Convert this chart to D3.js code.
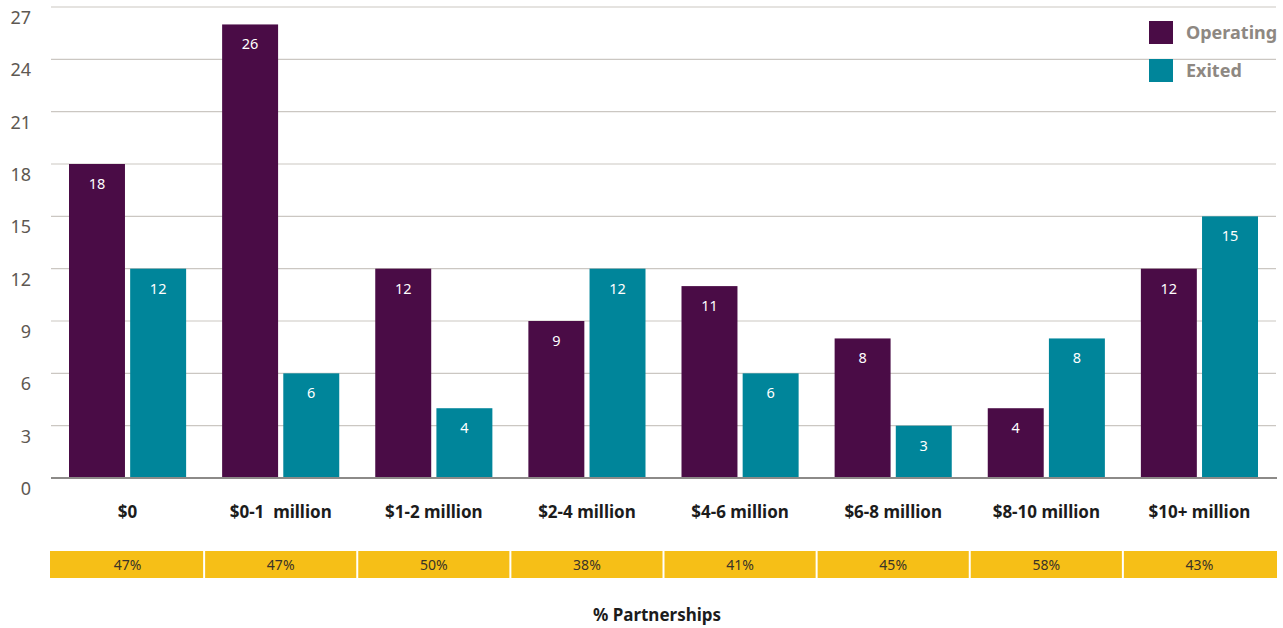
<!DOCTYPE html>
<html>
<head>
<meta charset="utf-8">
<script src="https://cdn.jsdelivr.net/npm/d3@7"></script>
<style>
  html, body { margin: 0; padding: 0; background: #fff; }
  svg { display: block; font-family: "Source Sans Pro", "Noto Sans", sans-serif; }
</style>
</head>
<body>
<div id="chart"></div>
<script>
/* grouped bars: operating vs exited by revenue band, with a % partnerships strip */
const categories = ["$0", "$0-1  million", "$1-2 million", "$2-4 million", "$4-6 million", "$6-8 million", "$8-10 million", "$10+ million"];
const operating = [18, 26, 12, 9, 11, 8, 4, 12];
const exited = [12, 6, 4, 12, 6, 3, 8, 15];
const partnerships = ["47%", "47%", "50%", "38%", "41%", "45%", "58%", "43%"];
const yTicks = [0, 3, 6, 9, 12, 15, 18, 21, 24, 27];
const seriesNames = ["Operating", "Exited"];

const W = 1283, H = 628;
const C = { operating: "#4a0c46", exited: "#00859a", grid: "#cbc7c2", base: "#8c8a88", tick: "#5e5852", legend: "#8e8882", ink: "#1c1c1c", strip: "#f6bf17" };
const m = { left: 51, right: 7, top: 7, baseY: 478 };

const svg = d3.select("#chart").append("svg").attr("width", W).attr("height", H);

const x = d3.scaleBand().domain(categories).range([m.left, W - m.right]).paddingInner(0).paddingOuter(0);
const inner = d3.scaleBand().domain(seriesNames).range([18, x.bandwidth() - 18]).paddingInner(0.085);
const y = d3.scaleLinear().domain([0, 27]).range([m.baseY, m.top]);

// gridlines + tick labels (labels sit a little under their line, as in the source)
const grid = svg.append("g");
yTicks.filter((t) => t > 0).forEach((t) => {
  grid.append("line").attr("x1", m.left).attr("x2", W - m.right)
    .attr("y1", y(t)).attr("y2", y(t)).attr("stroke", C.grid).attr("stroke-width", 1.2);
});
svg.append("g").selectAll("text").data(yTicks).join("text")
  .attr("x", 31).attr("y", (d) => y(d) + 17).attr("text-anchor", "end")
  .attr("font-size", 18).attr("fill", C.tick).text((d) => d);

// bars
const groups = svg.append("g").selectAll("g").data(categories).join("g")
  .attr("transform", (d) => `translate(${x(d)},0)`);
const rows = categories.map((c, i) => [
  { key: "Operating", v: operating[i], col: C.operating },
  { key: "Exited", v: exited[i], col: C.exited },
]);
groups.each(function (c, i) {
  const g = d3.select(this);
  g.selectAll("rect").data(rows[i]).join("rect")
    .attr("x", (d) => inner(d.key)).attr("width", inner.bandwidth())
    .attr("y", (d) => y(d.v)).attr("height", (d) => y(0) - y(d.v)).attr("fill", (d) => d.col);
  g.selectAll("text.v").data(rows[i]).join("text").attr("class", "v")
    .attr("x", (d) => inner(d.key) + inner.bandwidth() / 2).attr("y", (d) => y(d.v) + 25)
    .attr("text-anchor", "middle").attr("font-size", 14.5).attr("fill", "#fff").text((d) => d.v);
});

// baseline
svg.append("line").attr("x1", m.left).attr("x2", W - m.right + 1)
  .attr("y1", m.baseY).attr("y2", m.baseY).attr("stroke", C.base).attr("stroke-width", 2);

// category labels
svg.append("g").selectAll("text").data(categories).join("text")
  .attr("x", (d) => x(d) + x.bandwidth() / 2).attr("y", 518).attr("text-anchor", "middle")
  .attr("font-size", 17).attr("font-weight", 700).attr("fill", C.ink)
  .style("white-space", "pre").text((d) => d);

// % partnerships strip
const strip = svg.append("g");
strip.selectAll("rect").data(categories).join("rect")
  .attr("x", (d, i) => x(d) + (i === 0 ? -1 : 1)).attr("width", (d, i) => x.bandwidth() - (i === 0 ? 0 : 2) + (i === categories.length - 1 ? 2 : 0))
  .attr("y", 551).attr("height", 27).attr("fill", C.strip);
strip.selectAll("text").data(categories).join("text")
  .attr("x", (d) => x(d) + x.bandwidth() / 2).attr("y", 569.5).attr("text-anchor", "middle")
  .attr("font-size", 14).attr("fill", "#3a3328").text((d, i) => partnerships[i]);

svg.append("text").attr("x", 657).attr("y", 621).attr("text-anchor", "middle")
  .attr("font-size", 17).attr("font-weight", 700).attr("fill", C.ink).text("% Partnerships");

// legend
const leg = svg.append("g").attr("transform", "translate(1149,21)");
seriesNames.forEach((s, i) => {
  leg.append("rect").attr("x", 0).attr("y", i * 38).attr("width", 24).attr("height", 23)
    .attr("fill", i === 0 ? C.operating : C.exited);
  leg.append("text").attr("x", 37).attr("y", i * 38 + 18).attr("font-size", 18)
    .attr("font-weight", 700).attr("fill", C.legend).text(s);
});
</script>
</body>
</html>
